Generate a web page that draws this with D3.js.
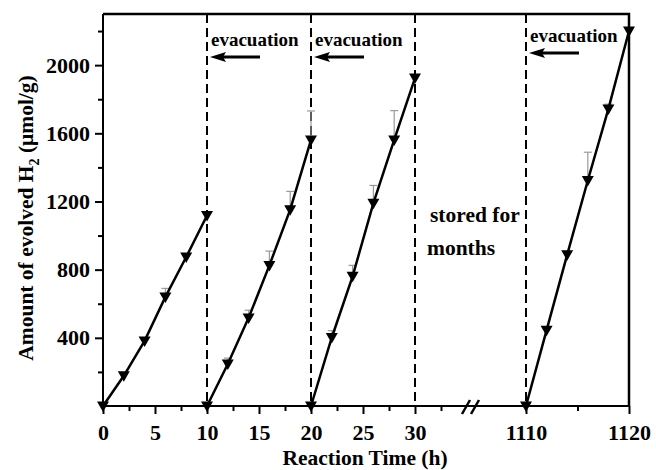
<!DOCTYPE html>
<html>
<head>
<meta charset="utf-8">
<script src="https://cdn.jsdelivr.net/npm/d3@7"></script>
<style>
    body { margin: 0; background: #fff; }
    svg text { font-family: "Liberation Serif", "Times New Roman", serif; font-weight: bold; fill: #000; }
</style>
</head>
<body>
<div id="chart"></div>
<script>
/*global d3 */

// run 1 .. run 4: reaction time (h), evolved H2 (umol/g), error (umol/g)
var run1Time = [0, 2, 4, 6, 8, 10],
    run1H2 = [0, 177, 382, 640, 874, 1118],
    run1Err = [0, 15, 15, 50, 15, 15],
    run2Time = [10, 12, 14, 16, 18, 20],
    run2H2 = [0, 246, 517, 825, 1152, 1561],
    run2Err = [0, 35, 45, 84, 107, 170],
    run3Time = [20, 22, 24, 26, 28, 30],
    run3H2 = [0, 402, 761, 1190, 1561, 1924],
    run3Err = [0, 40, 64, 104, 172, 20],
    run4Time = [1110, 1112, 1114, 1116, 1118, 1120],
    run4H2 = [0, 445, 888, 1323, 1743, 2200],
    run4Err = [0, 20, 20, 166, 28, 0],
    evacTimes = [10, 20, 30, 1110],
    arrowTimes = [10, 20, 1110],
    xMajorLeft = [0, 5, 10, 15, 20, 25, 30],
    xMinorLeft = [2.5, 7.5, 12.5, 17.5, 22.5, 27.5, 32.5],
    xMajorRight = [1110, 1120],
    xMinorRight = [1115],
    yMajor = [400, 800, 1200, 1600, 2000],
    yMinor = [200, 600, 1000, 1400, 1800, 2200];

(function () {
    "use strict";

    var W = 656, H = 470,
        left = 103, right = 629, top = 14, bottom = 406,
        brk = 471,
        svg, runs, xL, xR, y, xpos, line, g, axL, axR;

    ////////////////////////////////////////
    // scales
    ////////////////////////////////////////

    xL = d3.scaleLinear().domain([0, 35]).range([left, 467]);
    xR = d3.scaleLinear().domain([1105, 1120]).range([474.5, right]);
    y = d3.scaleLinear().domain([0, 2300]).range([bottom, top]);
    xpos = function (t) {
        return t < 500 ? xL(t) : xR(t);
    };

    runs = [{t: run1Time, v: run1H2, e: run1Err},
            {t: run2Time, v: run2H2, e: run2Err},
            {t: run3Time, v: run3H2, e: run3Err},
            {t: run4Time, v: run4H2, e: run4Err}].map(function (r) {
        return r.t.map(function (t, i) {
            return {t: t, v: r.v[i], e: r.e[i]}; });
    });

    svg = d3.select("#chart").append("svg")
        .attr("width", W).attr("height", H);

    ////////////////////////////////////////
    // axes
    ////////////////////////////////////////

    axL = function (vals, size, lab) {
        return d3.axisBottom(xL).tickValues(vals).tickSize(size)
            .tickPadding(10).tickFormat(lab ? d3.format("d") : "");
    };
    axR = function (vals, size, lab) {
        return d3.axisBottom(xR).tickValues(vals).tickSize(size)
            .tickPadding(10).tickFormat(lab ? d3.format("d") : "");
    };
    [[axL(xMinorLeft, 5, false)], [axL(xMajorLeft, 8, true)],
     [axR(xMinorRight, 5, false)], [axR(xMajorRight, 8, true)]]
        .forEach(function (a) {
            g = svg.append("g")
                .attr("transform", "translate(0," + bottom + ")")
                .call(a[0]);
            g.select(".domain").remove();
            g.selectAll("line").attr("stroke-width", 2);
            g.selectAll("text").style("font-size", "22px");
        });

    [[yMinor, 5, ""], [yMajor, 8, d3.format("d")]].forEach(function (a) {
        g = svg.append("g")
            .attr("transform", "translate(" + left + ",0)")
            .call(d3.axisLeft(y).tickValues(a[0]).tickSize(a[1])
                  .tickPadding(5).tickFormat(a[2]));
        g.select(".domain").remove();
        g.selectAll("line").attr("stroke-width", 2);
        g.selectAll("text").style("font-size", "22px");
    });

    // frame
    svg.append("path")
        .attr("d", "M" + left + "," + top + "V" + bottom + "H" + right)
        .attr("fill", "none").attr("stroke", "#000").attr("stroke-width", 2);
    svg.append("path")
        .attr("d", "M" + left + "," + top + "H" + right + "V" + bottom)
        .attr("fill", "none").attr("stroke", "#000").attr("stroke-width", 2.5);

    // axis break marks
    [-5, 4].forEach(function (dx) {
        svg.append("line")
            .attr("x1", brk + dx - 4).attr("y1", bottom + 8)
            .attr("x2", brk + dx + 4).attr("y2", bottom - 6)
            .attr("stroke", "#000").attr("stroke-width", 2.5);
    });

    ////////////////////////////////////////
    // dashed evacuation lines and labels
    ////////////////////////////////////////

    svg.selectAll("line.evac").data(evacTimes).enter().append("line")
        .attr("class", "evac")
        .attr("x1", xpos).attr("x2", xpos)
        .attr("y1", top).attr("y2", bottom)
        .attr("stroke", "#000").attr("stroke-width", 2)
        .attr("stroke-dasharray", "9,5");

    arrowTimes.forEach(function (t, i) {
        var x0 = xpos(t), yo = i === 2 ? -4 : 0;
        svg.append("text")
            .attr("x", x0 + 4).attr("y", 46 + yo)
            .style("font-size", "19px")
            .text("evacuation");
        svg.append("line")
            .attr("x1", x0 + 53).attr("y1", 57 + yo)
            .attr("x2", x0 + 14).attr("y2", 57 + yo)
            .attr("stroke", "#000").attr("stroke-width", 3);
        svg.append("path")
            .attr("d", "M" + (x0 + 3) + "," + (57 + yo) +
                  "L" + (x0 + 19) + "," + (52 + yo) +
                  "L" + (x0 + 16) + "," + (57 + yo) +
                  "L" + (x0 + 19) + "," + (62 + yo) + "Z")
            .attr("fill", "#000");
    });

    svg.append("text").attr("x", 430).attr("y", 222)
        .style("font-size", "21.5px").text("stored for");
    svg.append("text").attr("x", 427).attr("y", 255)
        .style("font-size", "21.5px").text("months");

    ////////////////////////////////////////
    // series
    ////////////////////////////////////////

    line = d3.line()
        .x(function (d) { return xpos(d.t); })
        .y(function (d) { return y(d.v); });

    runs.forEach(function (r) {
        var eb = svg.append("g").attr("stroke", "#9a9a9a")
                .attr("stroke-width", 1.2);
        r.filter(function (d) { return d.e > 0; }).forEach(function (d) {
            var cx = xpos(d.t);
            eb.append("line").attr("x1", cx).attr("x2", cx)
                .attr("y1", y(d.v)).attr("y2", y(d.v + d.e));
            eb.append("line").attr("x1", cx - 4).attr("x2", cx + 4)
                .attr("y1", y(d.v + d.e)).attr("y2", y(d.v + d.e));
        });
        svg.append("path").datum(r).attr("d", line)
            .attr("fill", "none").attr("stroke", "#000")
            .attr("stroke-width", 2.5);
        svg.selectAll(null).data(r).enter().append("path")
            .attr("d", "M-6,-4.5L6,-4.5L0,6Z")
            .attr("transform", function (d) {
                return "translate(" + xpos(d.t) + "," + y(d.v) + ")"; })
            .attr("fill", "#000");
    });

    ////////////////////////////////////////
    // axis titles
    ////////////////////////////////////////

    svg.append("text")
        .attr("x", 365).attr("y", 465).attr("text-anchor", "middle")
        .style("font-size", "21.5px").text("Reaction Time (h)");

    g = svg.append("text")
        .attr("transform", "translate(33,218) rotate(-90)")
        .attr("text-anchor", "middle")
        .style("font-size", "21.5px");
    g.append("tspan").text("Amount of evolved H");
    g.append("tspan").attr("dy", 6).style("font-size", "14px").text("2");
    g.append("tspan").attr("dy", -6).text(" (\u03bcmol/g)");
}());
</script>
</body>
</html>
